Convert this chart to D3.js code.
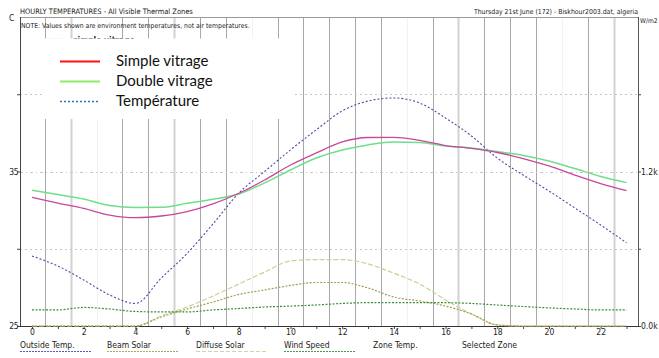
<!DOCTYPE html>
<html><head><meta charset="utf-8">
<script src="https://cdn.jsdelivr.net/npm/d3@7"></script>
<style>
html,body{margin:0;padding:0;background:#fff;}
svg{display:block;}
.sm{font-family:"Liberation Sans Narrow","Arial Narrow","DejaVu Sans Condensed",sans-serif;font-size:8.5px;fill:#222;}
.lg{font-family:Lato,"Open Sans",sans-serif;font-size:15px;fill:#111;}
</style></head>
<body>
<script>
// ---- data ----
const hours = d3.range(0, 24);
const simpleVitrage = [33.33,32.96,32.61,32.18,32.01,32.12,32.40,32.90,33.59,34.45,35.42,36.20,36.91,37.20,37.21,37.01,36.68,36.49,36.23,35.84,35.36,34.77,34.22,33.76];
const doubleVitrage = [33.78,33.51,33.22,32.80,32.67,32.68,32.94,33.20,33.54,34.26,35.10,35.87,36.39,36.72,36.91,36.88,36.65,36.52,36.29,36.04,35.68,35.19,34.68,34.28];
const outsideTemp   = [29.53,28.88,27.98,27.01,26.46,28.10,29.70,31.60,33.60,35.00,36.40,37.70,38.92,39.56,39.76,39.43,38.46,37.30,35.87,34.77,33.74,32.64,31.54,30.39];
const beamSolar     = [0,0,0,0,0,70,132,186,245,280,315,338,338,295,225,194,155,93,8,0,0,0,0,0];
const diffuseSolar  = [0,0,0,0,0,78,148,233,326,419,505,516,516,482,410,326,202,93,8,0,0,0,0,0];
const windSpeed     = [1.04,1.04,1.20,1.10,0.94,0.91,0.91,1.04,1.13,1.23,1.29,1.36,1.46,1.51,1.51,1.51,1.51,1.46,1.36,1.26,1.17,1.10,1.04,1.04];
const tempTicks = [25,30,35,40];
const tempLabels = {25:"25",35:"35"};
const solarTicks = [0,600,1200,1800];
const solarLabels = {0:"0.0k",1200:"1.2k"};
const legendItems = ["Simple vitrage","Double vitrage","Température"];
const bottomLegend = ["Outside Temp.","Beam Solar","Diffuse Solar","Wind Speed","Zone Temp.","Selected Zone"];
const titleLeft = "HOURLY TEMPERATURES - All Visible Thermal Zones";
const titleRight = "Thursday 21st June (172) - Biskhour2003.dat, algeria";
const noteText = "NOTE: Values shown are environment temperatures, not air temperatures.";

// ---- layout ----
const W = 659, H = 358;
const L = 20, R = 638, T = 17, B = 326;
const svg = d3.select("body").append("svg").attr("width", W).attr("height", H);

const x = d3.scaleLinear().domain([0, 23]).range([32, 626.5]);
const y = d3.scaleLinear().domain([25, 45]).range([B, T]);
const yS = d3.scaleLinear().domain([0, 2400]).range([B, T]);
const yW = d3.scaleLinear().domain([0, 20]).range([B, T]);

// fit a text's font size so that its natural width equals target
function fitText(sel, target) {
  const len = sel.node().getComputedTextLength();
  if (len > 0) sel.style("font-size", (8.5 * target / len).toFixed(2) + "px");
  return sel;
}

// vertical grid lines at half hours
const faint = new Set([2, 8, 14, 20]);
const light = new Set([1, 5, 16, 22]);
svg.append("g").selectAll("line").data(d3.range(0, 23)).join("line")
  .attr("x1", d => Math.round(x(d + 0.5)) + 0.5).attr("x2", d => Math.round(x(d + 0.5)) + 0.5)
  .attr("y1", T).attr("y2", B)
  .attr("stroke", d => faint.has(d) ? "#f2f2f2" : light.has(d) ? "#d2d2d2" : "#a8a8a8")
  .attr("stroke-width", d => light.has(d) ? 2 : 1);

// horizontal grid
svg.append("g").selectAll("line").data([30, 35, 40]).join("line")
  .attr("x1", L).attr("x2", R)
  .attr("y1", d => Math.round(y(d)) + 0.5).attr("y2", d => Math.round(y(d)) + 0.5)
  .attr("stroke", "#c6c6c6").attr("stroke-dasharray", d => d === 35 ? "3,3,1,3" : "2,3");

// frame
svg.append("line").attr("x1", L).attr("x2", R).attr("y1", T + 0.5).attr("y2", T + 0.5).attr("stroke", "#9a9a9a");
svg.append("line").attr("x1", L + 0.5).attr("x2", L + 0.5).attr("y1", T).attr("y2", B).attr("stroke", "#444");
svg.append("line").attr("x1", R + 0.5).attr("x2", R + 0.5).attr("y1", T).attr("y2", B).attr("stroke", "#555");

// axes
const gx = svg.append("g").attr("transform", `translate(0,${B})`)
  .call(d3.axisBottom(x).tickValues(hours).tickSize(3).tickFormat(d => d % 2 === 0 ? d : ""));
gx.select(".domain").attr("d", `M${L},0.5H${R}`).attr("stroke", "#333");
gx.selectAll(".tick line").attr("stroke", "#444");
gx.selectAll("text").attr("class", "sm").attr("font-size", null).attr("font-family", null).attr("dy", "0.6em").attr("y", 4);

const gl = svg.append("g").attr("transform", `translate(${L},0)`)
  .call(d3.axisLeft(y).tickValues(tempTicks).tickSize(3).tickFormat(d => tempLabels[d] || ""));
gl.select(".domain").remove();
gl.selectAll(".tick line").attr("stroke", "#444");
gl.selectAll("text").attr("class", "sm").attr("font-size", null).attr("font-family", null).attr("x", -2).attr("letter-spacing", "-0.5");

const gr = svg.append("g").attr("transform", `translate(${R},0)`)
  .call(d3.axisRight(yS).tickValues(solarTicks).tickSize(3).tickFormat(d => solarLabels[d] || ""));
gr.select(".domain").remove();
gr.selectAll(".tick line").attr("stroke", "#444");
gr.selectAll("text").attr("class", "sm").attr("font-size", null).attr("font-family", null).attr("x", 3);

svg.append("text").attr("class", "sm").attr("x", 9).attr("y", 21).text("C");
fitText(svg.append("text").attr("class", "sm").attr("x", 640).attr("y", 23).text("W/m2"), 17.5);

// titles
fitText(svg.append("text").attr("class", "sm").attr("x", 20).attr("y", 14).text(titleLeft), 173);
fitText(svg.append("text").attr("class", "sm").attr("x", 638).attr("y", 14).attr("text-anchor", "end").text(titleRight), 164);
fitText(svg.append("text").attr("class", "sm").attr("x", 21).attr("y", 27.5).text(noteText), 229);

// original small legend entry (partly hidden)
svg.append("line").attr("x1", 47).attr("x2", 62).attr("y1", 39.5).attr("y2", 39.5).attr("stroke", "#f0a0b0").attr("stroke-width", 1.5);
fitText(svg.append("text").attr("class", "sm").attr("x", 73).attr("y", 43).attr("font-weight", "bold").text("simple vitrage"), 62);

// series
const lineT = d3.line().x((d, i) => x(hours[i])).y(d => y(d)).curve(d3.curveMonotoneX);
const lineS = d3.line().x((d, i) => x(hours[i])).y(d => yS(d)).curve(d3.curveMonotoneX);
const lineW = d3.line().x((d, i) => x(hours[i])).y(d => yW(d)).curve(d3.curveMonotoneX);

svg.append("path").attr("d", lineS(diffuseSolar)).attr("fill", "none").attr("stroke", "#cfcf98").attr("stroke-width", 1.2).attr("stroke-dasharray", "5,2");
svg.append("path").attr("d", lineS(beamSolar)).attr("fill", "none").attr("stroke", "#a89c52").attr("stroke-width", 1.2).attr("stroke-dasharray", "2,1.5");
svg.append("path").attr("d", lineW(windSpeed)).attr("fill", "none").attr("stroke", "#3c8c3c").attr("stroke-width", 1.2).attr("stroke-dasharray", "2,1.5");
svg.append("path").attr("d", lineT(outsideTemp)).attr("fill", "none").attr("stroke", "#4a4aa8").attr("stroke-width", 1.1).attr("stroke-dasharray", "2,2");
svg.append("path").attr("d", lineT(doubleVitrage)).attr("fill", "none").attr("stroke", "#6fdf8c").attr("stroke-width", 1.5);
svg.append("path").attr("d", lineT(simpleVitrage)).attr("fill", "none").attr("stroke", "#c8479b").attr("stroke-width", 1.3);

// overlay legend box
svg.append("rect").attr("x", 44).attr("y", 38.5).attr("width", 248).attr("height", 80.5).attr("fill", "#fff");
const lgColors = ["#ff1010", "#88f060", "#2e75b6"];
const lgDash = [null, null, "2,2"];
legendItems.forEach((t, i) => {
  const yy = 61.5 + i * 20;
  svg.append("line").attr("x1", 60).attr("x2", 100).attr("y1", yy).attr("y2", yy)
    .attr("stroke", lgColors[i]).attr("stroke-width", i === 2 ? 1.5 : 2).attr("stroke-dasharray", lgDash[i]);
  svg.append("text").attr("class", "lg").attr("x", 116).attr("y", yy + 4.8).text(t);
});

// bottom legend
const bx = [20, 107, 196, 284, 373, 462];
const bCol = ["#5a5ac0", "#b0a860", "#d4d4a8", "#4a9a4a", null, null];
const bDash = ["2,1", "2,1", "4,2", "2,1", null, null];
bottomLegend.forEach((t, i) => {
  svg.append("text").attr("class", "sm").attr("x", bx[i]).attr("y", 348).text(t);
  if (bCol[i]) svg.append("line").attr("x1", bx[i]).attr("x2", bx[i] + 71).attr("y1", 351.5).attr("y2", 351.5)
    .attr("stroke", bCol[i]).attr("stroke-width", 1.2).attr("stroke-dasharray", bDash[i]);
});
</script>
</body></html>
